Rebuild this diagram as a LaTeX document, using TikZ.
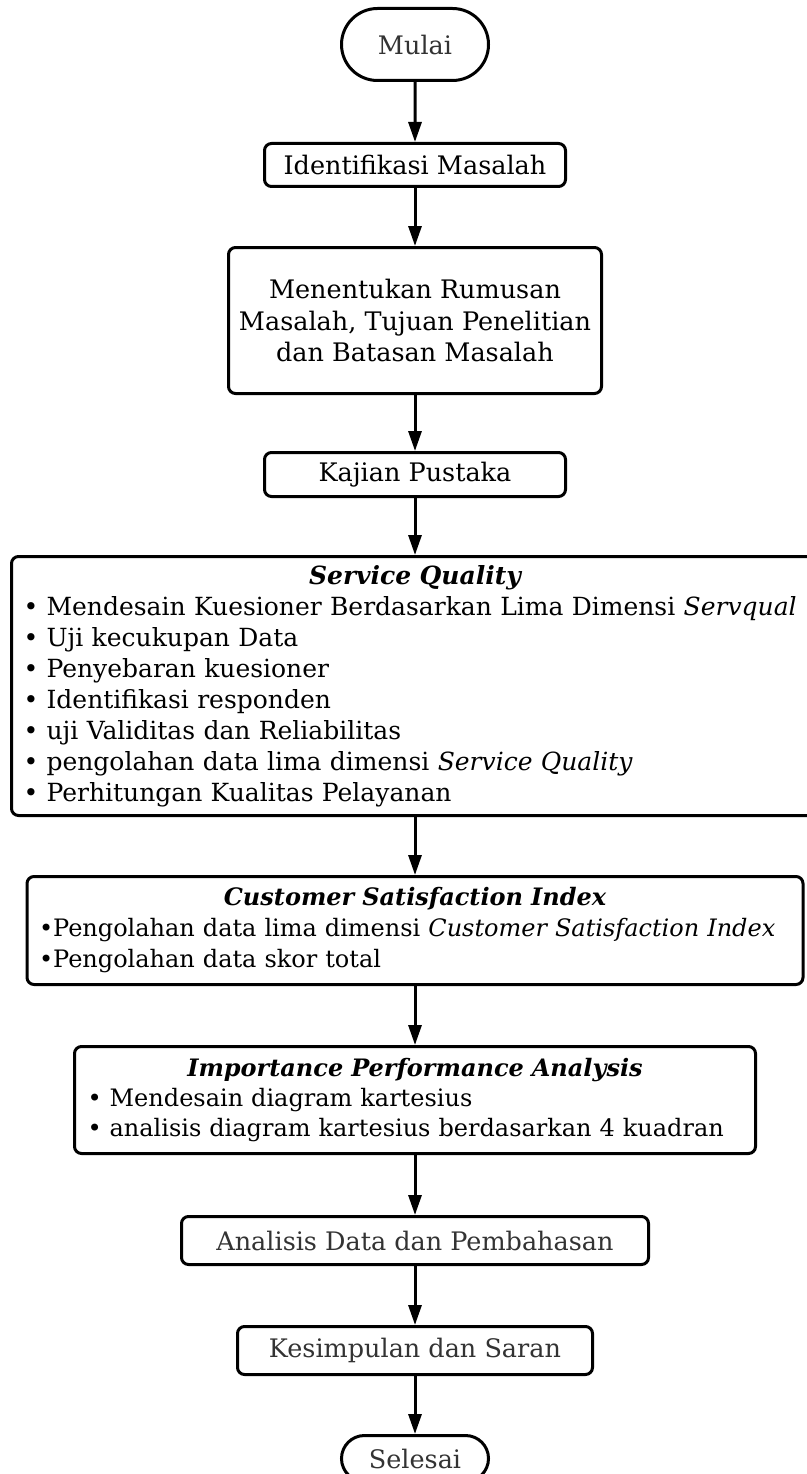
\documentclass[tikz,border=0pt]{standalone}
\usepackage{fontspec}
\setmainfont{DejaVu Serif}
\usetikzlibrary{arrows.meta, positioning, shapes.misc}
\definecolor{softblack}{HTML}{333333}
\tikzstyle{flowchart}=[line width=3pt, >={Triangle[width=13pt,length=20pt]}]
\tikzstyle{process}=[draw, rounded corners=7pt, align=center, inner sep=0pt, font=\fontsize{25.5}{31.5}\selectfont]
\tikzstyle{terminal}=[draw, rounded rectangle, minimum width=147pt, inner sep=0pt, text=softblack, font=\fontsize{25.5}{31.5}\selectfont]
\tikzstyle{listbox}=[draw, rounded corners=7pt, align=left, inner ysep=0pt, font=\fontsize{25}{31}\selectfont]

\begin{document}
\begin{tikzpicture}[flowchart]
  \useasboundingbox (0,0) rectangle (806pt,-1474pt);
  \node[terminal,minimum height=72pt] (mulai) at (415pt,-44.5pt) {Mulai};
  \node[process,minimum width=301pt,minimum height=43pt] (ident) [below=60pt of mulai] {Identifikasi Masalah};
  \node[process,minimum width=373pt,minimum height=146pt] (rumusan) [below=58pt of ident] {Menentukan Rumusan\\Masalah, Tujuan Penelitian\\dan Batasan Masalah};
  \node[process,minimum width=301pt,minimum height=44pt] (kajian) [below=56pt of rumusan] {Kajian Pustaka};
  \node[listbox,inner xsep=12pt,text width=783pt,minimum height=259pt] (servqual) [below=57pt of kajian] {%
    \makebox[\linewidth]{\bfseries\itshape Service Quality}\\
    • Mendesain Kuesioner Berdasarkan Lima Dimensi \textit{Servqual}\\
    • Uji kecukupan Data\\
    • Penyebaran kuesioner\\
    • Identifikasi responden\\
    • uji Validitas dan Reliabilitas\\
    • pengolahan data lima dimensi \textit{Service Quality}\\
    • Perhitungan Kualitas Pelayanan};
  \node[listbox,inner xsep=12pt,text width=752pt,minimum height=108pt,font=\fontsize{24}{31}\selectfont] (csi) [below=58pt of servqual] {%
    \makebox[\linewidth]{\bfseries\itshape Customer Satisfaction Index}\\
    •Pengolahan data lima dimensi \textit{Customer Satisfaction Index}\\
    •Pengolahan data skor total};
  \node[listbox,inner xsep=13pt,text width=655pt,minimum height=107pt,font=\fontsize{24}{30}\selectfont] (ipa) [below=59pt of csi] {%
    \makebox[\linewidth]{\bfseries\itshape Importance Performance Analysis}\\
    • Mendesain diagram kartesius\\
    • analisis diagram kartesius berdasarkan 4 kuadran};
  \node[process,text=softblack,minimum width=467pt,minimum height=48pt] (analisis) [below=60pt of ipa] {Analisis Data dan Pembahasan};
  \node[process,text=softblack,minimum width=355pt,minimum height=48pt] (saran) [below=59pt of analisis] {Kesimpulan dan Saran};
  \node[terminal,minimum height=46pt] (selesai) [below=58pt of saran] {Selesai};
  \path[->] (mulai) edge (ident);
  \path[->] (ident) edge (rumusan);
  \path[->] (rumusan) edge (kajian);
  \path[->] (kajian) edge (servqual);
  \path[->] (servqual) edge (csi);
  \path[->] (csi) edge (ipa);
  \path[->] (ipa) edge (analisis);
  \path[->] (analisis) edge (saran);
  \path[->] (saran) edge (selesai);
\end{tikzpicture}
\end{document}
